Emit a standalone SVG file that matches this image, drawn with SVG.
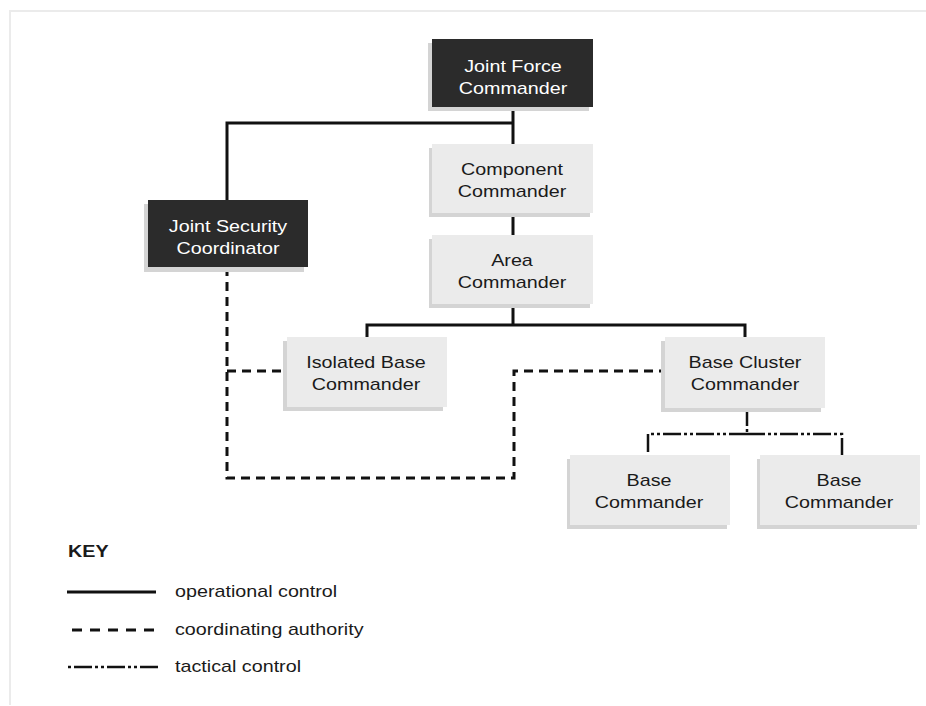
<svg xmlns="http://www.w3.org/2000/svg" width="926" height="706" viewBox="0 0 926 706">
<style>
.frame{stroke:#ebebeb;stroke-width:2;fill:none}
.dark{fill:#2b2b2b}
.light{fill:#ebebeb}
.sh{fill:#d4d4d4}
.t{font-family:"Liberation Sans",Arial,sans-serif;font-size:17px;text-anchor:middle}
.tw{fill:#ffffff}
.tb{fill:#1a1a1a}
.k{font-family:"Liberation Sans",Arial,sans-serif;font-size:17px;fill:#1a1a1a}
.op{stroke:#111;stroke-width:3;fill:none}
.co{stroke:#111;stroke-width:3;fill:none;stroke-dasharray:9 6}
.ta{stroke:#111;stroke-width:2.5;fill:none;stroke-dasharray:18 3 3 3 3 3}
</style>
<rect width="926" height="706" fill="#ffffff"/>
<path class="frame" d="M10 705 V11 H926"/>
<g id="connectors">
<path class="op" d="M227 200 V123 H513 M513 107 V144 M513 213 V235 M513 304 V325 M367 337 V325 H745 V337"/>
<path class="co" d="M227 267 V478 H514 V371 H665 M227 371 H287"/>
<path class="ta" d="M747 408 V434 M747 434 H648 V455 M747 434 H842 V455"/>
</g>
<g id="jfc">
<rect class="sh" x="428" y="43" width="161" height="68"/>
<rect class="dark" x="432" y="39" width="161" height="68"/>
<text class="t tw" transform="translate(513 72) scale(1.16 1)">Joint Force</text>
<text class="t tw" transform="translate(513 94) scale(1.16 1)">Commander</text>
</g>
<g id="component">
<rect class="sh" x="429" y="148" width="161" height="69"/>
<rect class="light" x="432" y="144" width="161" height="69"/>
<text class="t tb" transform="translate(512 175) scale(1.16 1)">Component</text>
<text class="t tb" transform="translate(512 197) scale(1.16 1)">Commander</text>
</g>
<g id="area">
<rect class="sh" x="429" y="239" width="161" height="69"/>
<rect class="light" x="432" y="235" width="161" height="69"/>
<text class="t tb" transform="translate(512 266) scale(1.16 1)">Area</text>
<text class="t tb" transform="translate(512 288) scale(1.16 1)">Commander</text>
</g>
<g id="jsc">
<rect class="sh" x="144" y="204" width="160" height="68"/>
<rect class="dark" x="148" y="200" width="160" height="67"/>
<text class="t tw" transform="translate(228 232) scale(1.16 1)">Joint Security</text>
<text class="t tw" transform="translate(228 254) scale(1.16 1)">Coordinator</text>
</g>
<g id="isolated">
<rect class="sh" x="283" y="341" width="160" height="70"/>
<rect class="light" x="287" y="337" width="160" height="70"/>
<text class="t tb" transform="translate(366 368) scale(1.16 1)">Isolated Base</text>
<text class="t tb" transform="translate(366 390) scale(1.16 1)">Commander</text>
</g>
<g id="cluster">
<rect class="sh" x="661" y="341" width="160" height="71"/>
<rect class="light" x="665" y="337" width="160" height="71"/>
<text class="t tb" transform="translate(745 368) scale(1.16 1)">Base Cluster</text>
<text class="t tb" transform="translate(745 390) scale(1.16 1)">Commander</text>
</g>
<g id="base1">
<rect class="sh" x="567" y="459" width="160" height="70"/>
<rect class="light" x="570" y="455" width="160" height="70"/>
<text class="t tb" transform="translate(649 486) scale(1.16 1)">Base</text>
<text class="t tb" transform="translate(649 508) scale(1.16 1)">Commander</text>
</g>
<g id="base2">
<rect class="sh" x="757" y="459" width="160" height="70"/>
<rect class="light" x="760" y="455" width="160" height="70"/>
<text class="t tb" transform="translate(839 486) scale(1.16 1)">Base</text>
<text class="t tb" transform="translate(839 508) scale(1.16 1)">Commander</text>
</g>
<g id="key">
<text class="k" font-weight="bold" transform="translate(68 557) scale(1.16 1)">KEY</text>
<path class="op" d="M67 592 H156"/>
<text class="k" transform="translate(175 597) scale(1.16 1)">operational control</text>
<path class="co" d="M72 630 H156" style="stroke-dasharray:10 8"/>
<text class="k" transform="translate(175 635) scale(1.16 1)">coordinating authority</text>
<path class="ta" d="M68 667 H160" style="stroke-dasharray:3 3 18 3 3 3"/>
<text class="k" transform="translate(175 672) scale(1.16 1)">tactical control</text>
</g>
</svg>
